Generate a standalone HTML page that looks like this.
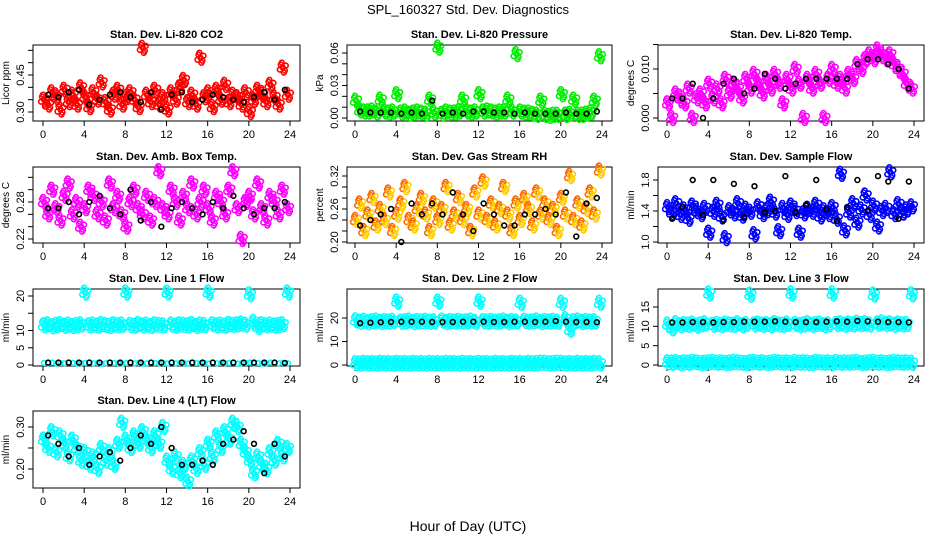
<!DOCTYPE html>
<html><head><meta charset="utf-8">
<style>
body{margin:0;background:#fff;}
svg{display:block;font-family:"Liberation Sans",sans-serif;}
</style></head>
<body>
<svg id="chart" width="936" height="540" viewBox="0 0 936 540">
<rect width="936" height="540" fill="#fff"/>
<text x="468" y="14" text-anchor="middle" font-size="13">SPL_160327  Std. Dev. Diagnostics</text>
<text x="468" y="531" text-anchor="middle" font-size="14">Hour of Day (UTC)</text>
</svg>
<script>
const xTicks=[0,4,8,12,16,20,24];
const hoursBlack=[0.5,1.5,2.5,3.5,4.5,5.5,6.5,7.5,8.5,9.5,10.5,11.5,12.5,13.5,14.5,15.5,16.5,17.5,18.5,19.5,20.5,21.5,22.5,23.5];
const hoursColor=[0.1,0.5,0.9,1.3,1.7,2.1,2.5,2.9,3.3,3.7,4.1,4.5,4.9,5.3,5.7,6.1,6.5,6.9,7.3,7.7,8.1,8.5,8.9,9.3,9.7,10.1,10.5,10.9,11.3,11.7,12.1,12.5,12.9,13.3,13.7,14.1,14.5,14.9,15.3,15.7,16.1,16.5,16.9,17.3,17.7,18.1,18.5,18.9,19.3,19.7,20.1,20.5,20.9,21.3,21.7,22.1,22.5,22.9,23.3,23.8];

const co2Color=[0.35,0.33,0.38,0.36,0.31,0.39,0.34,0.37,0.33,0.40,0.36,0.32,0.38,0.35,0.42,0.34,0.31,0.37,0.39,0.33,0.36,0.38,0.35,0.32,0.56,0.37,0.34,0.39,0.33,0.36,0.31,0.38,0.35,0.40,0.43,0.34,0.37,0.33,0.52,0.36,0.38,0.32,0.39,0.35,0.41,0.34,0.37,0.36,0.33,0.38,0.30,0.35,0.39,0.37,0.34,0.41,0.36,0.33,0.48,0.37];
const co2Black=[0.37,0.36,0.38,0.39,0.33,0.35,0.37,0.38,0.36,0.34,0.38,0.31,0.37,0.38,0.34,0.35,0.37,0.36,0.35,0.34,0.36,0.38,0.35,0.39];
const presColor=[0.016,0.007,0.006,0.006,0.007,0.005,0.017,0.006,0.005,0.006,0.022,0.005,0.006,0.004,0.005,0.006,0.005,0.004,0.017,0.005,0.065,0.004,0.006,0.005,0.005,0.006,0.017,0.006,0.005,0.006,0.022,0.006,0.007,0.006,0.005,0.006,0.006,0.017,0.006,0.059,0.006,0.005,0.005,0.004,0.003,0.016,0.003,0.002,0.003,0.003,0.022,0.003,0.004,0.017,0.003,0.003,0.004,0.005,0.016,0.057];
const presBlack=[0.006,0.005,0.005,0.005,0.004,0.005,0.004,0.016,0.004,0.005,0.004,0.006,0.006,0.005,0.005,0.004,0.005,0.004,0.004,0.004,0.005,0.004,0.004,0.006];
const tempColor=[0.003,0.0,0.005,0.004,0.003,0.006,0.0,0.004,0.005,0.003,0.007,0.004,0.006,0.003,0.008,0.005,0.007,0.006,0.004,0.008,0.006,0.009,0.007,0.005,0.008,0.006,0.009,0.007,0.003,0.008,0.006,0.010,0.007,0.0,0.008,0.006,0.009,0.007,0.0,0.008,0.010,0.007,0.008,0.006,0.009,0.008,0.011,0.010,0.012,0.013,0.012,0.014,0.013,0.012,0.013,0.011,0.010,0.009,0.007,0.006];
const tempBlack=[0.004,0.004,0.007,0.0,0.004,0.007,0.008,0.005,0.006,0.009,0.008,0.006,0.007,0.008,0.008,0.008,0.008,0.008,0.011,0.012,0.012,0.011,0.010,0.006];
const ambColor=[0.28,0.26,0.30,0.27,0.25,0.29,0.31,0.26,0.28,0.24,0.27,0.30,0.29,0.26,0.28,0.25,0.31,0.27,0.29,0.26,0.24,0.28,0.30,0.27,0.26,0.29,0.25,0.28,0.33,0.27,0.26,0.30,0.28,0.25,0.29,0.27,0.31,0.26,0.28,0.30,0.27,0.25,0.29,0.28,0.26,0.30,0.33,0.27,0.22,0.28,0.29,0.26,0.31,0.27,0.25,0.29,0.28,0.26,0.30,0.27];
const ambBlack=[0.27,0.27,0.28,0.26,0.28,0.29,0.27,0.26,0.30,0.25,0.28,0.24,0.27,0.28,0.27,0.26,0.28,0.27,0.29,0.27,0.26,0.27,0.27,0.28];
const rhColor=[0.24,0.27,0.22,0.25,0.28,0.23,0.26,0.24,0.29,0.22,0.25,0.27,0.30,0.24,0.23,0.26,0.28,0.25,0.22,0.27,0.24,0.26,0.30,0.23,0.25,0.28,0.24,0.26,0.22,0.29,0.25,0.31,0.24,0.27,0.23,0.26,0.30,0.25,0.22,0.27,0.24,0.28,0.26,0.23,0.29,0.25,0.27,0.24,0.26,0.22,0.28,0.25,0.32,0.24,0.27,0.23,0.26,0.29,0.25,0.33];
const rhBlack=[0.23,0.24,0.25,0.26,0.20,0.27,0.25,0.27,0.25,0.29,0.25,0.22,0.27,0.25,0.23,0.23,0.25,0.25,0.26,0.25,0.29,0.21,0.27,0.28];
const flowColor=[1.45,1.38,1.50,1.35,1.42,1.30,1.47,1.40,1.36,1.44,1.12,1.39,1.48,1.33,1.05,1.41,1.37,1.50,1.34,1.43,1.39,1.10,1.46,1.36,1.41,1.52,1.38,1.14,1.44,1.35,1.47,1.40,1.12,1.37,1.43,1.39,1.48,1.33,1.41,1.36,1.45,1.30,1.88,1.15,1.38,1.50,1.25,1.42,1.60,1.35,1.47,1.20,1.40,1.44,1.90,1.36,1.49,1.38,1.42,1.46];
const flowBlack=[1.30,1.45,1.80,1.35,1.80,1.28,1.75,1.32,1.72,1.38,1.40,1.85,1.38,1.48,1.80,1.42,1.27,1.45,1.80,1.40,1.85,1.78,1.30,1.78];
const l1Hi=[11.5,11.8,11.2,11.6,11.9,11.4,11.7,11.3,11.6,11.8,21.0,11.5,11.7,11.4,11.9,11.6,11.3,11.8,11.5,11.7,21.0,11.6,11.4,11.9,11.5,11.7,11.3,11.8,11.6,11.5,21.0,11.7,11.4,11.8,11.6,11.5,11.9,11.3,11.7,11.6,21.0,11.8,11.5,11.7,11.4,11.9,11.6,11.8,12.0,11.7,20.5,12.5,11.0,11.8,11.5,11.7,11.4,11.6,11.8,21.0];
const l1Lo=[0.6,0.5,0.7,0.4,0.6,0.5,0.7,0.6,0.4,0.5,0.6,0.7,0.5,0.6,0.4,0.5,0.7,0.6,0.5,0.4,0.6,0.7,0.5,0.6,0.4,0.5,0.7,0.6,0.5,0.6,0.4,0.7,0.5,0.6,0.5,0.4,0.7,0.6,0.5,0.6,0.4,0.7,0.5,0.6,0.5,0.6,0.7,0.4,0.5,0.6,0.7,0.5,0.6,0.4,0.5,0.7,0.6,0.5,0.6,0.5];
const l1Black=[0.7,0.7,0.7,0.7,0.7,0.7,0.7,0.7,0.7,0.7,0.7,0.7,0.7,0.7,0.7,0.7,0.7,0.7,0.7,0.7,0.7,0.7,0.7,0.6];
const l2Hi=[19.0,18.4,18.8,18.2,18.6,18.9,18.3,18.7,18.5,18.8,27.0,18.4,18.6,18.9,18.3,18.7,18.5,18.8,18.4,18.6,27.0,18.9,18.3,18.7,18.5,18.8,18.4,18.6,18.9,18.3,27.0,18.7,18.5,18.8,18.4,18.6,18.9,18.3,18.7,18.5,26.5,18.8,18.4,18.6,18.9,18.3,18.7,18.5,18.8,18.4,26.5,19.5,15.0,18.6,18.9,18.3,18.7,18.5,18.6,26.5];
const l2Lo=[0.8,0.6,0.9,0.7,0.8,0.6,0.9,0.7,0.8,0.6,0.9,0.7,0.8,0.6,0.9,0.7,0.8,0.6,0.9,0.7,0.8,0.6,0.9,0.7,0.8,0.6,0.9,0.7,0.8,0.6,0.9,0.7,0.8,0.6,0.9,0.7,0.8,0.6,0.9,0.7,0.8,0.6,0.9,0.7,0.8,1.0,0.9,0.7,0.8,1.0,0.9,0.7,0.8,0.6,0.9,0.7,0.8,0.6,0.9,0.7];
const l2Black=[17.8,18.0,18.2,18.3,18.4,18.4,18.4,18.3,18.3,18.3,18.4,18.4,18.4,18.3,18.3,18.4,18.4,18.3,18.4,18.7,18.4,18.3,18.3,18.2];
const l3Hi=[10.5,9.5,10.8,10.3,10.6,10.4,10.7,10.2,10.5,10.8,18.5,10.4,10.6,10.3,10.7,10.5,10.4,10.8,10.3,10.6,18.2,10.5,10.7,10.4,10.6,10.3,10.8,10.5,10.4,10.7,18.5,10.6,10.3,10.5,10.8,10.4,10.6,10.7,10.3,10.5,18.5,10.6,10.8,10.4,10.7,10.5,10.9,10.6,10.8,10.5,18.2,10.7,11.0,10.6,10.8,10.4,10.7,10.5,10.6,18.3];
const l3Lo=[0.7,0.6,0.8,0.5,0.7,0.6,0.8,0.7,0.5,0.6,0.7,0.8,0.6,0.7,0.5,0.6,0.8,0.7,0.6,0.5,0.7,0.8,0.6,0.7,0.5,0.6,0.8,0.7,0.6,0.7,0.5,0.8,0.6,0.7,0.6,0.5,0.8,0.7,0.6,0.7,0.5,0.8,0.6,0.7,0.6,0.7,0.8,0.5,0.6,0.7,0.8,0.6,0.7,0.5,0.6,0.8,0.7,0.6,0.7,0.6];
const l3Black=[11.0,11.0,11.1,11.1,11.0,11.1,11.1,11.2,11.2,11.2,11.3,11.2,11.1,11.1,11.1,11.2,11.3,11.2,11.4,11.3,11.2,11.1,11.1,11.0];
const l4Color=[0.27,0.25,0.29,0.24,0.28,0.26,0.23,0.27,0.25,0.22,0.24,0.21,0.23,0.20,0.25,0.22,0.24,0.21,0.26,0.31,0.27,0.25,0.28,0.26,0.29,0.27,0.25,0.28,0.26,0.30,0.22,0.20,0.23,0.19,0.21,0.17,0.22,0.20,0.24,0.21,0.26,0.23,0.28,0.25,0.29,0.27,0.31,0.30,0.26,0.24,0.22,0.19,0.23,0.21,0.20,0.24,0.22,0.26,0.23,0.25];
const l4Black=[0.28,0.26,0.23,0.25,0.21,0.23,0.24,0.22,0.25,0.28,0.26,0.30,0.25,0.21,0.21,0.22,0.21,0.26,0.27,0.29,0.26,0.19,0.26,0.23];

const svg=document.getElementById('chart');
const NS='http://www.w3.org/2000/svg';
function mk(tag,attrs){const e=document.createElementNS(NS,tag);for(const k in attrs)e.setAttribute(k,attrs[k]);svg.appendChild(e);return e;}

const cols=[{l:33,r:300,x0:43,x24:290},{l:347,r:612,x0:355,x24:602},{l:658,r:924,x0:667,x24:914}];
const rows=[{t:45,b:121},{t:167,b:243},{t:289,b:366},{t:411,b:488}];
const jit=[[2,3],[-2,-3],[3,-2],[-3,2],[1,5],[-1,-5]];

function panel(o){
  const c=cols[o.col],rw=rows[o.row];
  const xs=h=>c.x0+(c.x24-c.x0)*h/24;
  const ys=v=>o.py0+(o.py1-o.py0)*(v-o.v0)/(o.v1-o.v0);
  const g=mk('g',{});
  
  
  const t=mk('text',{x:(c.l+c.r)/2,y:rw.t-7,'text-anchor':'middle','font-size':11,'font-weight':'bold'});
  t.textContent=o.title;
  
  
  const box=mk('rect',{x:c.l,y:rw.t,width:c.r-c.l,height:rw.b-rw.t,fill:'none',stroke:'#000','stroke-width':1});
  
  
  xTicks.forEach(h=>{
    const x=xs(h);
    mk('line',{x1:x,x2:x,y1:rw.b,y2:rw.b+5,stroke:'#000'});
    const lt=mk('text',{x:x,y:rw.b+17,'text-anchor':'middle','font-size':11});
    lt.textContent=h;
    
    
  });
  o.ticks.forEach(v=>{
    const y=ys(v);
    if(y<rw.t-1||y>rw.b+1)return;
    mk('line',{x1:c.l-5,x2:c.l,y1:y,y2:y,stroke:'#000'});
  });
  o.labels.forEach(s=>{
    const y=ys(parseFloat(s));
    const lt=mk('text',{x:c.l-9,y:y,'text-anchor':'middle','font-size':11,transform:`rotate(-90 ${c.l-9} ${y})`});
    lt.textContent=s;
    
    
  });
  const ym=(rw.t+rw.b)/2,yx=c.l-24;
  const yl=mk('text',{x:yx,y:ym,'text-anchor':'middle','font-size':10,transform:`rotate(-90 ${yx} ${ym})`});
  yl.textContent=o.ylab;
  
  
  o.series.forEach(s=>{
    s.vals.forEach((v,i)=>{
      const x=xs(s.hrs[i]),y=ys(v);
      if(s.fill){
        jit.forEach((d,k)=>{
          const p2=mk('circle',{cx:x+d[0],cy:y+d[1],r:2.4,fill:'none',stroke:(k%2?s.fill:s.col),'stroke-width':1.6});
          
          
        });
      }
      const p=mk('circle',{cx:x,cy:y,r:2.4,fill:'none',stroke:s.col,'stroke-width':1.6});
      
      
    });
  });
}

panel({name:'co2',title:'Stan. Dev. Li-820 CO2',ylab:'Licor ppm',col:0,row:0,v0:0.30,py0:112,v1:0.45,py1:75,ticks:[0.30,0.35,0.40,0.45,0.50,0.55],labels:['0.30','0.45'],
  series:[{vals:co2Color,hrs:hoursColor,col:'#ff0000',fill:'#ff0000'},{vals:co2Black,hrs:hoursBlack,col:'#000'}]});
panel({name:'pressure',title:'Stan. Dev. Li-820 Pressure',ylab:'kPa',col:1,row:0,v0:0,py0:118,v1:0.06,py1:53,ticks:[0,0.01,0.02,0.03,0.04,0.05,0.06],labels:['0.00','0.03','0.06'],
  series:[{vals:presColor,hrs:hoursColor,col:'#00ee00',fill:'#00ee00'},{vals:presBlack,hrs:hoursBlack,col:'#000'}]});
panel({name:'li-temp',title:'Stan. Dev. Li-820 Temp.',ylab:'degrees C',col:2,row:0,v0:0,py0:118,v1:0.010,py1:69,ticks:[0,0.005,0.010,0.015],labels:['0.000','0.010'],
  series:[{vals:tempColor,hrs:hoursColor,col:'#ff00ff',fill:'#ff00ff'},{vals:tempBlack,hrs:hoursBlack,col:'#000'}]});
panel({name:'amb-temp',title:'Stan. Dev. Amb. Box Temp.',ylab:'degrees C',col:0,row:1,v0:0.22,py0:239,v1:0.28,py1:202,ticks:[0.22,0.24,0.26,0.28,0.30,0.32],labels:['0.22','0.28'],
  series:[{vals:ambColor,hrs:hoursColor,col:'#ff00ff',fill:'#ff00ff'},{vals:ambBlack,hrs:hoursBlack,col:'#000'}]});
panel({name:'rh',title:'Stan. Dev. Gas Stream RH',ylab:'percent',col:1,row:1,v0:0.20,py0:242,v1:0.32,py1:176,ticks:[0.20,0.22,0.24,0.26,0.28,0.30,0.32],labels:['0.20','0.26','0.32'],
  series:[{vals:rhColor,hrs:hoursColor,col:'#ffcc00',fill:'#ff6600'},{vals:rhBlack,hrs:hoursBlack,col:'#000'}]});
panel({name:'sample-flow',title:'Stan. Dev. Sample Flow',ylab:'ml/min',col:2,row:1,v0:1.0,py0:242,v1:1.8,py1:180,ticks:[1.0,1.2,1.4,1.6,1.8],labels:['1.0','1.4','1.8'],
  series:[{vals:flowColor,hrs:hoursColor,col:'#0000ff',fill:'#0000ff'},{vals:flowBlack,hrs:hoursBlack,col:'#000'}]});
panel({name:'line1-flow',title:'Stan. Dev. Line 1 Flow',ylab:'ml/min',col:0,row:2,v0:0,py0:365,v1:20,py1:296,ticks:[0,5,10,15,20],labels:['0','5','10','20'],
  series:[{vals:l1Hi,hrs:hoursColor,col:'#00ffff',fill:'#00ffff'},{vals:l1Lo,hrs:hoursColor,col:'#00ffff'},{vals:l1Black,hrs:hoursBlack,col:'#000'}]});
panel({name:'line2-flow',title:'Stan. Dev. Line 2 Flow',ylab:'ml/min',col:1,row:2,v0:0,py0:365,v1:20,py1:318,ticks:[0,10,20],labels:['0','10','20'],
  series:[{vals:l2Hi,hrs:hoursColor,col:'#00ffff',fill:'#00ffff'},{vals:l2Lo,hrs:hoursColor,col:'#00ffff',fill:'#00ffff'},{vals:l2Black,hrs:hoursBlack,col:'#000'}]});
panel({name:'line3-flow',title:'Stan. Dev. Line 3 Flow',ylab:'ml/min',col:2,row:2,v0:0,py0:365,v1:15,py1:307,ticks:[0,5,10,15],labels:['0','5','10','15'],
  series:[{vals:l3Hi,hrs:hoursColor,col:'#00ffff',fill:'#00ffff'},{vals:l3Lo,hrs:hoursColor,col:'#00ffff',fill:'#00ffff'},{vals:l3Black,hrs:hoursBlack,col:'#000'}]});
panel({name:'line4-flow',title:'Stan. Dev. Line 4 (LT) Flow',ylab:'ml/min',col:0,row:3,v0:0.20,py0:469,v1:0.30,py1:427,ticks:[0.20,0.25,0.30],labels:['0.20','0.30'],
  series:[{vals:l4Color,hrs:hoursColor,col:'#00ffff',fill:'#00ffff'},{vals:l4Black,hrs:hoursBlack,col:'#000'}]});
</script>
</body></html>
